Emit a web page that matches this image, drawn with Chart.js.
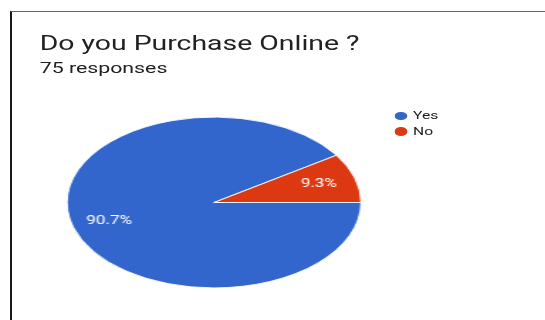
<!DOCTYPE html>
<html>
<head>
<meta charset="utf-8">
<script src="https://cdn.jsdelivr.net/npm/chart.js@4.4.1/dist/chart.umd.min.js"></script>
<style>
  html, body { margin: 0; padding: 0; background: #fff; }
  body { width: 545px; height: 320px; overflow: hidden; position: relative; }
  .frame {
    position: absolute; left: 10px; top: 11px; right: -5px; bottom: -5px;
    border-left: 2px solid #1a1a1a; border-top: 1px solid #666;
  }
  .stage {
    position: absolute; left: 0; top: 0; width: 384px; height: 320px;
    transform: scaleX(1.4193); transform-origin: 0 0;
    font-family: Roboto, "Liberation Sans", sans-serif; color: #202124;
  }
  .stage canvas { position: absolute; left: 0; top: 0; }
  .title { position: absolute; left: 28px; top: 31px; font-size: 20px; line-height: 24px; white-space: nowrap; }
  .subtitle { position: absolute; left: 28px; top: 59px; font-size: 15px; line-height: 18px; white-space: nowrap; }
  #legend { position: absolute; left: 278px; top: 108px; margin: 0; padding: 0; list-style: none; }
  #legend li { display: flex; align-items: center; height: 15.5px; font-size: 11px; color: #222; }
  #legend .dot { width: 9px; height: 8.5px; border-radius: 50%; margin-right: 4px; }
</style>
</head>
<body>
<div class="frame"></div>
<div class="stage">
  <canvas id="pie" width="384" height="320"></canvas>
  <div class="title">Do you Purchase Online ?</div>
  <div class="subtitle">75 responses</div>
  <ul id="legend"></ul>
</div>
<script>
const answers = ['Yes', 'No'];
const responses = [68, 7];
const sliceColors = ['#3366cc', '#dc3912'];

// vertical squash applied to the arcs so the pie reads as an ellipse
const squash = 0.825;

const ellipsePie = {
  id: 'ellipsePie',
  beforeDatasetsDraw(chart) {
    const arc = chart.getDatasetMeta(0).data[0];
    const ctx = chart.ctx;
    ctx.save();
    ctx.translate(0, arc.y * (1 - squash));
    ctx.scale(1, squash);
  },
  afterDatasetsDraw(chart) {
    const ctx = chart.ctx;
    ctx.restore();

    // percentage labels inside each slice
    const total = responses.reduce((a, b) => a + b, 0);
    ctx.save();
    ctx.fillStyle = '#fff';
    ctx.font = '12px Roboto, "Liberation Sans", sans-serif';
    ctx.textAlign = 'center';
    ctx.textBaseline = 'middle';
    chart.getDatasetMeta(0).data.forEach((arc, i) => {
      const { x, y, startAngle, endAngle, outerRadius } =
        arc.getProps(['x', 'y', 'startAngle', 'endAngle', 'outerRadius'], true);
      const mid = (startAngle + endAngle) / 2;
      const r = outerRadius * 0.745;
      const pct = (responses[i] / total * 100).toFixed(1) + '%';
      ctx.fillText(pct, x + Math.cos(mid) * r, y + Math.sin(mid) * r * squash);
    });
    ctx.restore();
  }
};

const chart = new Chart(document.getElementById('pie'), {
  type: 'pie',
  data: {
    labels: answers,
    datasets: [{
      data: responses,
      backgroundColor: sliceColors,
      borderColor: '#fff',
      borderWidth: 1
    }]
  },
  options: {
    responsive: false,
    devicePixelRatio: 1,
    animation: false,
    rotation: 90,
    layout: { padding: { left: 46.7, right: 129.15, top: 98.43, bottom: 13.43 } },
    plugins: {
      legend: { display: false },
      tooltip: { enabled: false }
    }
  },
  plugins: [ellipsePie]
});

// HTML legend built from the chart's labels and colours
const legendEl = document.getElementById('legend');
chart.data.labels.forEach((label, i) => {
  const li = document.createElement('li');
  const dot = document.createElement('span');
  dot.className = 'dot';
  dot.style.background = chart.data.datasets[0].backgroundColor[i];
  li.appendChild(dot);
  li.appendChild(document.createTextNode(label));
  legendEl.appendChild(li);
});
</script>
</body>
</html>
